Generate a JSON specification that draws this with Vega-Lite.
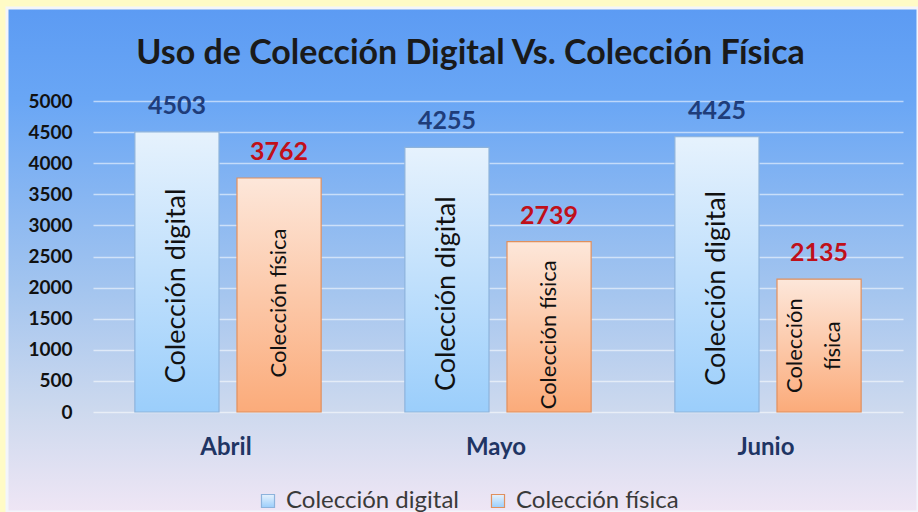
{
  "$schema": "https://vega.github.io/schema/vega-lite/v6.json",
  "autosize": {"type": "none"},
  "width": 911,
  "height": 504,
  "padding": {"left": 7, "top": 8, "right": 0, "bottom": 0},
  "background": "#fffbc6",
  "config": {
    "view": {
      "stroke": "#f3f5fb",
      "strokeWidth": 3,
      "fill": {
        "gradient": "linear", "x1": 0, "y1": 0, "x2": 0, "y2": 1,
        "stops": [
          {"offset": 0, "color": "#5c9bf3"},
          {"offset": 0.18, "color": "#69a6f5"},
          {"offset": 0.55, "color": "#a2c4ef"},
          {"offset": 0.8, "color": "#cdd9ee"},
          {"offset": 1, "color": "#efe6f5"}
        ]
      }
    },
    "font": "Lato"
  },
  "title": {
    "text": "Uso de Colección Digital Vs. Colección Física",
    "font": "Lato",
    "fontSize": 34,
    "fontWeight": "bold",
    "color": "#1a1a1a",
    "anchor": "middle",
    "offset": -63,
    "dx": 8
  },
  "data": {
    "values": [
      {"mes": "Abril", "serie": "Colección digital", "valor": 4503, "etiqueta": "Colección digital"},
      {"mes": "Abril", "serie": "Colección física", "valor": 3762, "etiqueta": "Colección física"},
      {"mes": "Mayo", "serie": "Colección digital", "valor": 4255, "etiqueta": "Colección digital"},
      {"mes": "Mayo", "serie": "Colección física", "valor": 2739, "etiqueta": "Colección física"},
      {"mes": "Junio", "serie": "Colección digital", "valor": 4425, "etiqueta": "Colección digital"},
      {"mes": "Junio", "serie": "Colección física", "valor": 2135, "etiqueta": ["Colección", "física"]}
    ]
  },
  "encoding": {
    "x": {
      "field": "mes", "type": "nominal", "sort": ["Abril", "Mayo", "Junio"],
      "scale": {"range": [86, 896], "paddingInner": 0, "paddingOuter": 0},
      "axis": {
        "title": null, "orient": "bottom", "offset": -100, "domain": false, "ticks": false,
        "labelPadding": 35, "labelBaseline": "middle", "labelFontSize": 24, "labelFontWeight": "bold",
        "labelColor": "#1f3564", "labelAngle": 0, "labelFont": "Lato", "labelOffset": -2
      }
    },
    "xOffset": {
      "field": "serie", "type": "nominal",
      "scale": {"domain": ["Colección digital", "Colección física"], "paddingInner": 0.176, "paddingOuter": 0.41}
    }
  },
  "layer": [
    {
      "transform": [{"filter": "datum.serie == 'Colección digital'"}],
      "mark": {
        "type": "bar", "strokeWidth": 1.2,
        "fill": {"gradient": "linear", "x1": 0, "y1": 0, "x2": 0, "y2": 1,
          "stops": [{"offset": 0, "color": "#e6f2fd"}, {"offset": 1, "color": "#9bcefb"}]}
      },
      "encoding": {
        "y": {
          "field": "valor", "type": "quantitative",
          "scale": {"domain": [0, 5000], "range": [404, 93], "nice": false},
          "axis": {
            "title": null, "orient": "left", "offset": -65, "domain": false, "ticks": false,
            "labelPadding": 0, "values": [0, 500, 1000, 1500, 2000, 2500, 3000, 3500, 4000, 4500, 5000],
            "format": "d",
            "labelFontSize": 19, "labelFontWeight": "bold", "labelColor": "#111111",
            "labelFont": "Lato", "grid": true, "gridColor": "#ffffff", "gridOpacity": 0.55, "gridWidth": 1.5
          }
        },
        "stroke": {
          "field": "serie", "type": "nominal",
          "scale": {"domain": ["Colección digital", "Colección física"], "range": ["#8db3dc", "#e0905e"]},
          "legend": {
            "title": null, "orient": "none", "legendX": 249, "legendY": 481,
            "direction": "horizontal", "symbolType": "square", "symbolSize": 170,
            "labelFontSize": 24, "labelColor": "#3a3a3a", "labelFont": "Lato", "labelLimit": 400,
            "columnPadding": 27, "labelOffset": 6, "symbolStrokeWidth": 1.2,
            "encode": {"symbols": {"update": {"fill": {"signal": "datum.value == 'Colección digital' ? '#cde5fc' : '#fccfb2'"}, "fillOpacity": {"value": 1}}}}
          }
        }
      }
    },
    {
      "transform": [{"filter": "datum.serie == 'Colección física'"}],
      "mark": {
        "type": "bar", "strokeWidth": 1.2,
        "fill": {"gradient": "linear", "x1": 0, "y1": 0, "x2": 0, "y2": 1,
          "stops": [{"offset": 0, "color": "#fde7da"}, {"offset": 1, "color": "#fbab7a"}]}
      },
      "encoding": {
        "y": {"field": "valor", "type": "quantitative", "scale": {"domain": [0, 5000], "range": [404, 93], "nice": false}, "axis": null},
        "stroke": {"field": "serie", "type": "nominal"}
      }
    },
    {
      "mark": {"type": "text", "dy": -26, "fontSize": 25, "fontWeight": "bold", "baseline": "middle", "font": "Lato"},
      "encoding": {
        "y": {"field": "valor", "type": "quantitative", "scale": {"domain": [0, 5000], "range": [404, 93], "nice": false}, "axis": null},
        "text": {"field": "valor", "type": "quantitative", "format": "d"},
        "color": {
          "condition": {"test": "datum.serie == 'Colección digital'", "value": "#1f3d7a"},
          "value": "#c0101a"
        }
      }
    },
    {
      "transform": [{"filter": "datum.serie == 'Colección digital'"}],
      "mark": {"type": "text", "angle": 270, "align": "center", "baseline": "middle", "color": "#111111", "font": "Lato", "fontSize": 27, "dx": -14},
      "encoding": {
        "y": {"field": "valor", "type": "quantitative", "scale": {"domain": [0, 10000], "range": [404, 93], "nice": false}, "axis": null},
        "text": {"field": "etiqueta"}
      }
    },
    {
      "transform": [{"filter": "datum.serie == 'Colección física' && !isArray(datum.etiqueta)"}],
      "mark": {"type": "text", "angle": 270, "align": "center", "baseline": "middle", "color": "#111111", "font": "Lato", "fontSize": 22, "dx": -8},
      "encoding": {
        "y": {"field": "valor", "type": "quantitative", "scale": {"domain": [0, 10000], "range": [404, 93], "nice": false}, "axis": null},
        "text": {"field": "etiqueta"}
      }
    },
    {
      "transform": [{"filter": "datum.serie == 'Colección física' && isArray(datum.etiqueta)"}],
      "mark": {"type": "text", "angle": 270, "align": "center", "baseline": "middle", "color": "#111111", "font": "Lato", "fontSize": 22, "lineHeight": 38, "dy": -24, "dx": 0},
      "encoding": {
        "y": {"field": "valor", "type": "quantitative", "scale": {"domain": [0, 10000], "range": [404, 93], "nice": false}, "axis": null},
        "text": {"field": "etiqueta"}
      }
    }
  ],
  "resolve": {"scale": {"y": "independent"}, "axis": {"y": "independent"}}
}
